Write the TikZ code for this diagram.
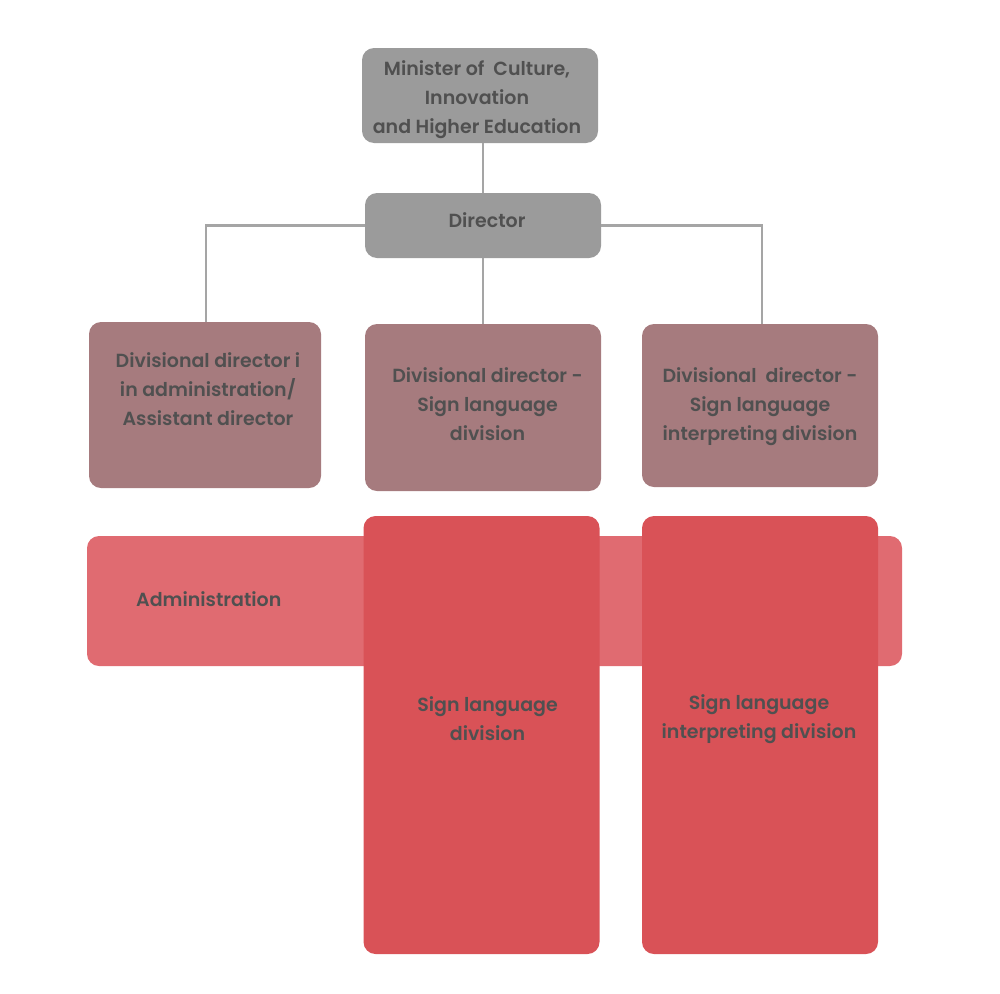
\documentclass[tikz,border=0pt]{standalone}
\usepackage{fontspec}
\setmainfont{Poppins}[UprightFont={* SemiBold}]
\usepackage{xcolor}
\usepackage{tikz}
\usetikzlibrary{positioning, calc}
\definecolor{headgrey}{HTML}{9B9B9B}
\definecolor{divrose}{HTML}{A67B7E}
\definecolor{bandred}{HTML}{E06B71}
\definecolor{unitred}{HTML}{D95257}
\definecolor{inkgrey}{HTML}{505050}
\definecolor{linegrey}{HTML}{A5A5A5}

\tikzset{
  orgbox/.style={inner sep=0pt, outer sep=0pt, rounded corners=12pt},
  headbox/.style={orgbox, fill=headgrey, minimum width=236pt},
  divbox/.style={orgbox, fill=divrose, minimum width=232pt, minimum height=166pt},
  bandbox/.style={orgbox, fill=bandred, minimum width=815pt, minimum height=130pt},
  unitbox/.style={orgbox, fill=unitred, minimum width=236pt, minimum height=438pt},
  boxtext/.style={text=inkgrey, align=center, inner sep=0pt, font=\fontsize{19}{29}\selectfont},
  link/.style={draw=linegrey, line width=2.8pt}
}

\begin{document}
\begin{tikzpicture}[x=1pt, y=-1pt]
  \useasboundingbox (0,0) rectangle (1000,993);

  % top of the chart
  \node[headbox, minimum height=95pt] (minister) at (480,95.5) {};
  \node[boxtext] (minister-t) at (477,100) {Minister of\ \ Culture,\\Innovation\\and Higher Education};
  \node[headbox, minimum height=65pt] (director) at (483,225.5) {};
  \node[boxtext] (director-t) at (487,220) {Director};

  % divisional directors
  \node[divbox] (divadmin) at (205,405) {};
  \node[boxtext] (divadmin-t) at (208,389) {Divisional director i\\in administration/\\Assistant director};
  \node[divbox, minimum width=236pt, minimum height=167pt] (divsign) at (483,407.5) {};
  \node[boxtext] (divsign-t) at (487.5,404) {Divisional director -\\Sign language\\division};
  \node[divbox, minimum width=236pt, minimum height=163pt] (divinterp) at (760,405.5) {};
  \node[boxtext] (divinterp-t) at (760,407) {Divisional\ \ director -\\Sign language\\interpreting division};

  % divisions
  \node[bandbox] (admin) at (494.5,601) {};
  \node[boxtext, anchor=west] (admin-t) at (136,599) {Administration};
  \node[unitbox] (sign) at (481.5,735) {};
  \node[boxtext] (sign-t) at (487.5,718.5) {Sign language\\division};
  \node[unitbox] (interp) at (760,735) {};
  \node[boxtext] (interp-t) at (759,719) {Sign language\\interpreting division};

  % connectors
  \draw[link] (director.north |- minister.south) -- (director.north);
  \draw[link] (director.west) -| ([xshift=1pt]divadmin.north);
  \draw[link] (director.south) -- (divsign.north);
  \draw[link] (director.east) -| ([xshift=2pt]divinterp.north);
\end{tikzpicture}
\end{document}
